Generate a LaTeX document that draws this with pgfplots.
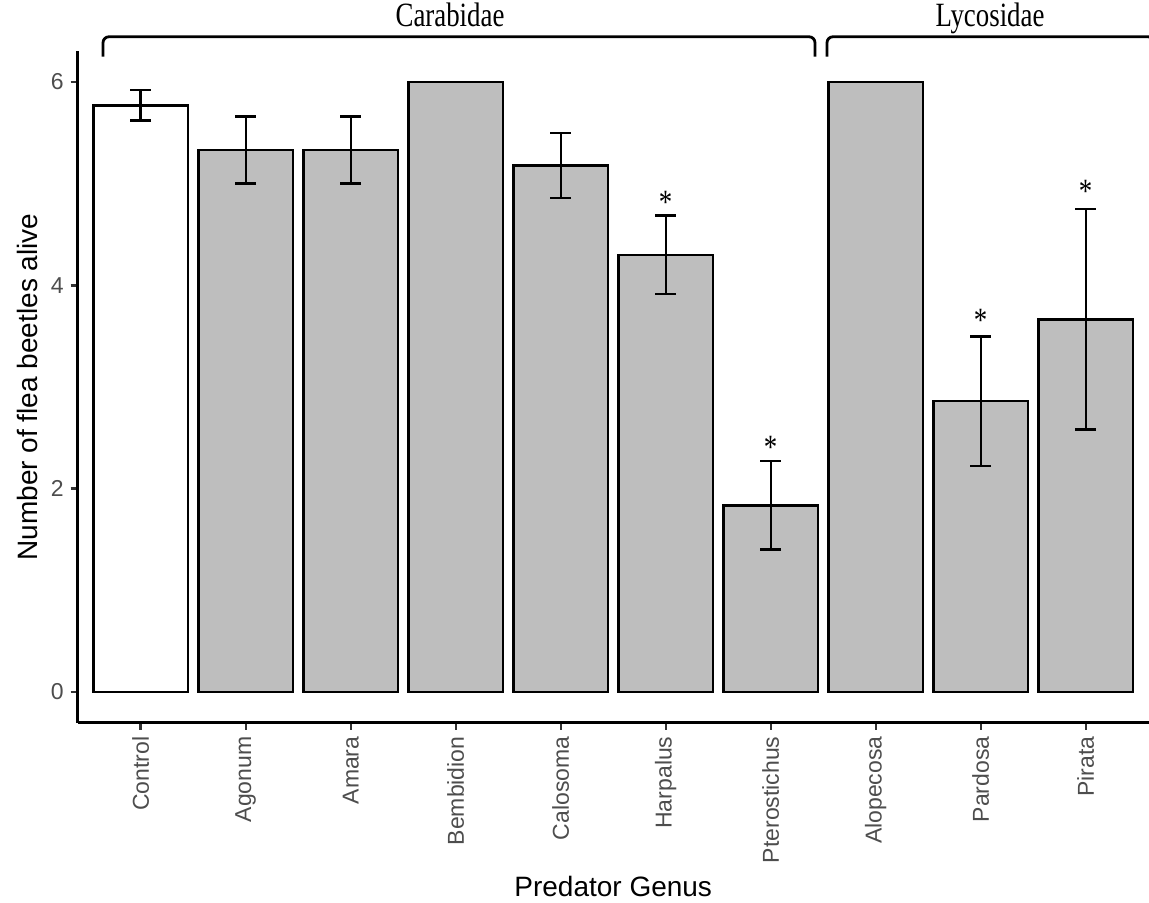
\documentclass[border=0pt]{standalone}
\usepackage{fontspec}
\setmainfont{Liberation Sans}
\newfontfamily\brfont[FakeStretch=0.79]{Liberation Serif}
\usepackage{pgfplots}
\usepackage{pgfplotstable}
\pgfplotsset{compat=1.18}

\definecolor{bargrey}{HTML}{BEBEBE}
\definecolor{textgrey}{HTML}{4D4D4D}
\definecolor{tickgrey}{HTML}{333333}

% mean number of flea beetles alive and its standard error, per predator genus
\pgfplotstableread{
x y err
1 5.33 0.33
2 5.33 0.33
3 6.00 0.00
4 5.18 0.32
5 4.30 0.385
6 1.835 0.435
7 6.00 0.00
8 2.86 0.635
9 3.665 1.085
}\predators

% baselines of the significance stars
\pgfplotstableread{
x y
5 4.71
6 2.30
8 3.55
9 4.81
}\stars

\begin{document}
\begin{tikzpicture}
\begin{axis}[
  at={(0,0)}, anchor=south west,
  scale only axis, width=535.5pt, height=335.5pt,
  xmin=-0.6, xmax=9.6, ymin=-0.3, ymax=6.3,
  axis x line*=bottom, axis y line*=left,
  axis line style={line width=1.3pt, black, -},
  xtick={0,...,9},
  xticklabels={Control,Agonum,Amara,Bembidion,Calosoma,Harpalus,Pterostichus,Alopecosa,Pardosa,Pirata},
  ytick={0,2,4,6},
  tick align=outside,
  major tick length=3.5pt,
  tick style={line width=1.2pt, tickgrey},
  /pgf/number format/assume math mode=true,
  xticklabel style={rotate=90, anchor=east, font=\fontsize{11.5pt}{13pt}\selectfont, text=textgrey},
  yticklabel style={font=\fontsize{11.5pt}{13pt}\selectfont, text=textgrey},
  xlabel={Predator Genus},
  ylabel={Number of flea beetles alive},
  label style={font=\fontsize{14pt}{16pt}\selectfont},
  xlabel style={at={(axis description cs:0.5,-0.26)}, anchor=base},
  ylabel style={at={(axis description cs:-0.0371,0.5)}, anchor=base},
  clip=false,
]
% control group
\addplot[ybar, bar width=0.9, bar shift=0pt, fill=white, draw=black,
  line width=1.2pt, line join=miter,
  error bars/.cd, y dir=both, y explicit,
  error bar style={line width=1.2pt, black},
  error mark options={rotate=90, line width=1.2pt, mark size=5.25pt, black}]
  coordinates {(0,5.77) +- (0,0.15)};
% predator treatments
\addplot[ybar, bar width=0.9, bar shift=0pt, fill=bargrey, draw=black,
  line width=1.2pt, line join=miter,
  error bars/.cd, y dir=both, y explicit,
  error bar style={line width=1.2pt, black},
  error mark options={rotate=90, line width=1.2pt, mark size=5.25pt, black}]
  table[x=x, y=y, y error=err] {\predators};
% significance stars
\addplot[draw=none, mark=none,
  nodes near coords={*},
  every node near coord/.style={anchor=base, inner sep=0pt, black,
    font=\brfont\fontsize{17pt}{20pt}\selectfont}]
  table[x=x, y=y] {\stars};
% family brackets
\draw[line width=1.4pt, rounded corners=3pt]
  (axis cs:-0.359,6.249) -- (axis cs:-0.359,6.445) -- (axis cs:6.422,6.445) -- (axis cs:6.422,6.249);
\draw[line width=1.4pt, rounded corners=3pt]
  (axis cs:6.536,6.249) -- (axis cs:6.536,6.445) -- (axis cs:9.65,6.445) -- (axis cs:9.65,6.249);
\node[anchor=base, inner sep=0pt, font=\brfont\fontsize{17pt}{20pt}\selectfont]
  at (axis cs:2.946,6.549) {Carabidae};
\node[anchor=base, inner sep=0pt, font=\brfont\fontsize{17pt}{20pt}\selectfont]
  at (axis cs:8.089,6.549) {Lycosidae};
\end{axis}
\pgfresetboundingbox
\path[use as bounding box] (-38.85pt,-90.25pt) rectangle (535.65pt,361.25pt);
\end{tikzpicture}
\end{document}
